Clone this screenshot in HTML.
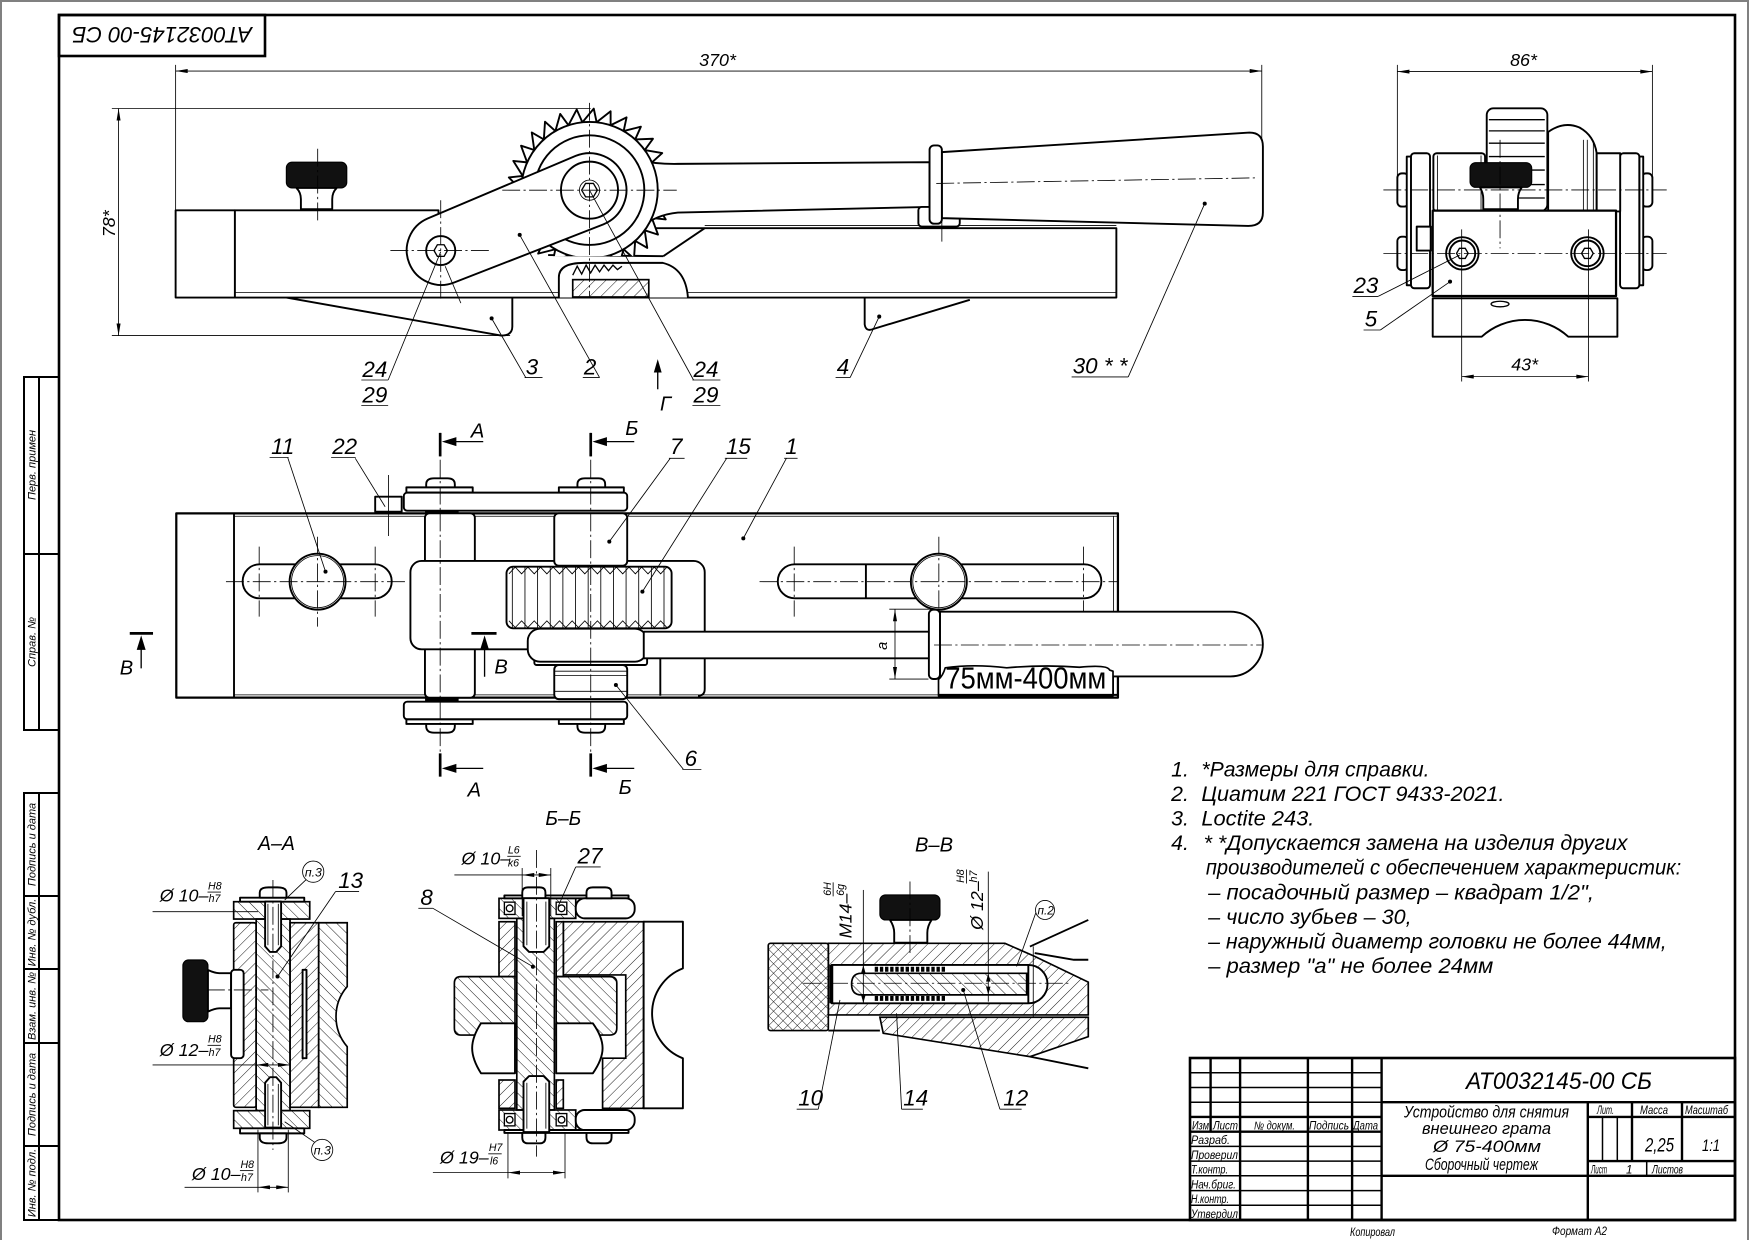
<!DOCTYPE html>
<html><head><meta charset="utf-8">
<style>
html,body{margin:0;padding:0;background:#fff;width:1754px;height:1240px;overflow:hidden}
svg{display:block}
text{font-family:"Liberation Sans","DejaVu Sans",sans-serif;font-style:italic;fill:#000}
.k{stroke:#000;stroke-width:1.7;fill:none;stroke-linejoin:round}
.w{stroke:#000;stroke-width:1.7;fill:#fff;stroke-linejoin:round}
.t{stroke:#000;stroke-width:.75;fill:none}
.c{stroke:#000;stroke-width:.75;fill:none;stroke-dasharray:16 3 2 3}
.ha{fill:url(#ha);stroke:#000;stroke-width:1.5}
.hb{fill:url(#hb);stroke:#000;stroke-width:1.5}
.hx{fill:url(#hx);stroke:#000;stroke-width:1.5}
.d{stroke:#000;stroke-width:.75;fill:none;marker-start:url(#ar);marker-end:url(#ar)}
.b{fill:#111;stroke:#000;stroke-width:1}
.f{stroke:#000;stroke-width:2.4;fill:none}
.g{stroke:#000;stroke-width:1.2;fill:none}
.up{font-style:normal}
</style></head><body>
<svg width="1754" height="1240" viewBox="0 0 1754 1240" xmlns="http://www.w3.org/2000/svg">
<defs>
<marker id="ar" viewBox="0 0 12 4" refX="12" refY="2" markerWidth="11" markerHeight="3.6" markerUnits="userSpaceOnUse" orient="auto-start-reverse"><path d="M0,0L12,2L0,4z" fill="#000"/></marker>
<pattern id="ha" width="7" height="7" patternUnits="userSpaceOnUse" patternTransform="rotate(45)"><line x1="0" y1="0" x2="0" y2="7" stroke="#000" stroke-width=".8"/></pattern>
<pattern id="hb" width="7" height="7" patternUnits="userSpaceOnUse" patternTransform="rotate(-45)"><line x1="0" y1="0" x2="0" y2="7" stroke="#000" stroke-width=".8"/></pattern>
<pattern id="hx" width="6" height="6" patternUnits="userSpaceOnUse" patternTransform="rotate(45)"><line x1="0" y1="0" x2="0" y2="6" stroke="#000" stroke-width=".8"/><line x1="0" y1="0" x2="6" y2="0" stroke="#000" stroke-width=".8"/></pattern>
<clipPath id="wc"><rect x="440" y="80" width="200" height="149"/></clipPath>
</defs>

<!-- ===== FRAME (original coords) ===== -->
<rect x="1" y="1" width="1747" height="1250" fill="none" stroke="#808080" stroke-width="2"/>
<rect x="59" y="15" width="1676" height="1205" fill="none" stroke="#000" stroke-width="2.6"/>
<rect x="59" y="15" width="206" height="41" fill="none" stroke="#000" stroke-width="2.6"/>
<text transform="rotate(180 162 35.5)" x="72" y="44" font-size="22" textLength="180" lengthAdjust="spacingAndGlyphs">АТ0032145-00 СБ</text>

<!-- left margin stamps -->
<g stroke="#000" stroke-width="2" fill="none">
<rect x="24" y="377" width="35" height="353"/>
<line x1="39" y1="377" x2="39" y2="730"/>
<line x1="24" y1="554" x2="59" y2="554"/>
<rect x="24" y="793" width="35" height="427"/>
<line x1="39" y1="793" x2="39" y2="1220"/>
<line x1="24" y1="896" x2="59" y2="896"/>
<line x1="24" y1="969" x2="59" y2="969"/>
<line x1="24" y1="1043" x2="59" y2="1043"/>
<line x1="24" y1="1146" x2="59" y2="1146"/>
</g>
<g font-size="11" text-anchor="middle">
<text transform="translate(35.5,465) rotate(-90)">Перв. примен</text>
<text transform="translate(35.5,642) rotate(-90)">Справ. №</text>
<text transform="translate(35.5,844.5) rotate(-90)">Подпись и дата</text>
<text transform="translate(35.5,932.5) rotate(-90)">Инв. № дубл.</text>
<text transform="translate(35.5,1006) rotate(-90)">Взам. инв. №</text>
<text transform="translate(35.5,1094.5) rotate(-90)">Подпись и дата</text>
<text transform="translate(35.5,1183) rotate(-90)">Инв. № подл.</text>
</g>

<!-- title block -->
<g stroke="#000" fill="none">
<rect x="1190" y="1058" width="545" height="162" stroke-width="2.6"/>
<g stroke-width="1.5">
<line x1="1190" y1="1072.7" x2="1381.6" y2="1072.7"/>
<line x1="1190" y1="1087.5" x2="1381.6" y2="1087.5"/>
<line x1="1190" y1="1102.2" x2="1381.6" y2="1102.2"/>
<line x1="1190" y1="1146.4" x2="1381.6" y2="1146.4"/>
<line x1="1190" y1="1161.1" x2="1381.6" y2="1161.1"/>
<line x1="1190" y1="1175.8" x2="1381.6" y2="1175.8"/>
<line x1="1190" y1="1190.6" x2="1381.6" y2="1190.6"/>
<line x1="1190" y1="1205.3" x2="1381.6" y2="1205.3"/>
<line x1="1602.5" y1="1116.9" x2="1602.5" y2="1161.1"/>
<line x1="1617.3" y1="1116.9" x2="1617.3" y2="1161.1"/>
<line x1="1646.7" y1="1161.1" x2="1646.7" y2="1175.8"/>
</g>
<g stroke-width="2.4">
<line x1="1190" y1="1116.9" x2="1381.6" y2="1116.9"/>
<line x1="1190" y1="1131.7" x2="1381.6" y2="1131.7"/>
<line x1="1210.6" y1="1058" x2="1210.6" y2="1131.7"/>
<line x1="1240.1" y1="1058" x2="1240.1" y2="1220"/>
<line x1="1307.9" y1="1058" x2="1307.9" y2="1220"/>
<line x1="1352.1" y1="1058" x2="1352.1" y2="1220"/>
<line x1="1381.6" y1="1058" x2="1381.6" y2="1220"/>
<line x1="1381.6" y1="1102.2" x2="1735" y2="1102.2"/>
<line x1="1587.8" y1="1102.2" x2="1587.8" y2="1220"/>
<line x1="1587.8" y1="1116.9" x2="1735" y2="1116.9"/>
<line x1="1587.8" y1="1161.1" x2="1735" y2="1161.1"/>
<line x1="1381.6" y1="1175.8" x2="1735" y2="1175.8"/>
<line x1="1632" y1="1102.2" x2="1632" y2="1161.1"/>
<line x1="1682" y1="1102.2" x2="1682" y2="1161.1"/>
</g>
</g>
<g font-size="11.5">
<text x="1192" y="1129.5" textLength="17" lengthAdjust="spacingAndGlyphs">Изм</text>
<text x="1213" y="1129.5" textLength="25" lengthAdjust="spacingAndGlyphs">Лист</text>
<text x="1254" y="1129.5" textLength="41" lengthAdjust="spacingAndGlyphs">№ докум.</text>
<text x="1309" y="1129.5" textLength="40" lengthAdjust="spacingAndGlyphs">Подпись</text>
<text x="1353" y="1129.5" textLength="25" lengthAdjust="spacingAndGlyphs">Дата</text>
<text x="1191" y="1144" textLength="39" lengthAdjust="spacingAndGlyphs">Разраб.</text>
<text x="1191" y="1159" textLength="47" lengthAdjust="spacingAndGlyphs">Проверил</text>
<text x="1191" y="1173.5" textLength="37" lengthAdjust="spacingAndGlyphs">Т.контр.</text>
<text x="1191" y="1188.5" textLength="45" lengthAdjust="spacingAndGlyphs">Нач.бриг.</text>
<text x="1191" y="1203" textLength="38" lengthAdjust="spacingAndGlyphs">Н.контр.</text>
<text x="1191" y="1218" textLength="47" lengthAdjust="spacingAndGlyphs">Утвердил</text>
<text x="1597" y="1114" textLength="17" lengthAdjust="spacingAndGlyphs">Лит.</text>
<text x="1640" y="1114" textLength="28" lengthAdjust="spacingAndGlyphs">Масса</text>
<text x="1685" y="1114" textLength="43" lengthAdjust="spacingAndGlyphs">Масштаб</text>
<text x="1591" y="1173.5" textLength="16" lengthAdjust="spacingAndGlyphs">Лист</text>
<text x="1626" y="1173.5">1</text>
<text x="1652" y="1173.5" textLength="31" lengthAdjust="spacingAndGlyphs">Листов</text>
<text x="1350" y="1236" textLength="45" lengthAdjust="spacingAndGlyphs">Копировал</text>
<text x="1552" y="1235" textLength="55" lengthAdjust="spacingAndGlyphs">Формат А2</text>
</g>
<text x="1645" y="1151.5" font-size="19" textLength="29" lengthAdjust="spacingAndGlyphs">2,25</text>
<text x="1702" y="1151" font-size="17" textLength="18" lengthAdjust="spacingAndGlyphs">1:1</text>
<text x="1466" y="1089" font-size="24" textLength="186" lengthAdjust="spacingAndGlyphs">АТ0032145-00 СБ</text>
<g font-size="17">
<text x="1404" y="1117.5" textLength="165" lengthAdjust="spacingAndGlyphs">Устройство для снятия</text>
<text x="1422" y="1134" textLength="129" lengthAdjust="spacingAndGlyphs">внешнего грата</text>
<text x="1433" y="1152" textLength="108" lengthAdjust="spacingAndGlyphs">Ø 75-400мм</text>
<text x="1425" y="1170" textLength="113" lengthAdjust="spacingAndGlyphs">Сборочный чертеж</text>
</g>

<!-- ===== DRAWINGS (display coords, scaled) ===== -->
<g transform="scale(1.1186)">

<!-- ========== TOP VIEW ========== -->
<line class="t" x1="157" y1="58" x2="157" y2="188"/>
<line class="t" x1="1128" y1="58" x2="1128" y2="124"/>
<line class="d" x1="157" y1="63.5" x2="1128" y2="63.5"/>
<text x="625" y="59" font-size="16">370*</text>
<line class="t" x1="100" y1="97" x2="528" y2="97"/>
<line class="t" x1="100" y1="300" x2="456" y2="300"/>
<line class="d" x1="106" y1="97" x2="106" y2="300"/>
<text transform="translate(103,212) rotate(-90)" font-size="16">78*</text>

<path class="w" d="M256,266 L448,300 Q458,300 458,292 L458,266"/>
<path class="w" d="M773,266 L773,290 Q774,297 781,294 L867,268"/>
<rect class="w" x="157" y="188" width="53" height="78"/>
<path class="w" d="M210,188 H392 V204 H998 V266 H210 Z"/>
<line class="t" x1="210" y1="261.5" x2="998" y2="261.5"/>
<line class="t" x1="630" y1="201.5" x2="998" y2="201.5"/>
<line class="k" x1="593" y1="229" x2="630" y2="204"/>
<line class="k" x1="490" y1="228" x2="593" y2="229"/>
<path class="w" d="M499.6,266 V248 Q499.6,235 522,235 H592.5 Q613,240 615,266"/>
<rect class="ha" x="512" y="250" width="68" height="15.5"/>
<polyline class="g" points="512,246 516,238 520,245 524,237 528,244 532,237 536,243 540,237 544,242 548,237 552,241 556,238"/>

<rect class="b" x="256" y="145" width="54" height="23" rx="5"/>
<path class="w" d="M265,168 H301 Q297,172 297,178 V187 H269 V178 Q269,172 265,168 Z"/>
<line class="c" x1="284" y1="133" x2="284" y2="200"/>

<g clip-path="url(#wc)">
<path id="tt" class="w" d="M588,170 L599.1,181.4 L586.7,182.7 Z"/>
<use href="#tt" transform="rotate(12 527 170)"/><use href="#tt" transform="rotate(24 527 170)"/><use href="#tt" transform="rotate(36 527 170)"/>
<use href="#tt" transform="rotate(48 527 170)"/><use href="#tt" transform="rotate(60 527 170)"/><use href="#tt" transform="rotate(72 527 170)"/>
<use href="#tt" transform="rotate(84 527 170)"/><use href="#tt" transform="rotate(96 527 170)"/><use href="#tt" transform="rotate(108 527 170)"/>
<use href="#tt" transform="rotate(120 527 170)"/><use href="#tt" transform="rotate(132 527 170)"/><use href="#tt" transform="rotate(144 527 170)"/>
<use href="#tt" transform="rotate(156 527 170)"/><use href="#tt" transform="rotate(168 527 170)"/><use href="#tt" transform="rotate(180 527 170)"/>
<use href="#tt" transform="rotate(192 527 170)"/><use href="#tt" transform="rotate(204 527 170)"/><use href="#tt" transform="rotate(216 527 170)"/>
<use href="#tt" transform="rotate(228 527 170)"/><use href="#tt" transform="rotate(240 527 170)"/><use href="#tt" transform="rotate(252 527 170)"/>
<use href="#tt" transform="rotate(264 527 170)"/><use href="#tt" transform="rotate(276 527 170)"/><use href="#tt" transform="rotate(288 527 170)"/>
<use href="#tt" transform="rotate(300 527 170)"/><use href="#tt" transform="rotate(312 527 170)"/><use href="#tt" transform="rotate(324 527 170)"/>
<use href="#tt" transform="rotate(336 527 170)"/><use href="#tt" transform="rotate(348 527 170)"/>
</g>
<path class="w" d="M556,140 Q582,147 606,146.5 L831,145 L831,185 L606,190 Q586,192 572,204 Z"/>
<g clip-path="url(#wc)"><circle class="w" cx="527" cy="170" r="61"/><circle class="k" cx="527" cy="170" r="49"/></g>
<path class="w" d="M382.3,195.3 L514.6,139.4 A33,33 0 0 1 539.4,200.6 L405.7,252.7 A31,31 0 0 1 382.3,195.3 Z"/>
<circle class="k" cx="527" cy="170" r="25.5"/>
<circle class="t" cx="527" cy="170" r="9"/>
<polygon class="g" points="534,170 530.5,176 523.5,176 520,170 523.5,164 530.5,164"/>
<circle class="k" cx="394" cy="224" r="13"/>
<polygon class="g" points="400,224 397,229.2 391,229.2 388,224 391,218.8 397,218.8"/>
<line class="c" x1="449" y1="170" x2="605" y2="170"/>
<line class="c" x1="527" y1="92" x2="527" y2="265"/>
<line class="c" x1="349" y1="224" x2="440" y2="224"/>
<line class="c" x1="394" y1="179" x2="394" y2="270"/>

<rect class="w" x="821" y="185" width="37" height="17.5" rx="3"/>
<path class="w" d="M842,136 L1117,118.5 Q1129,118.5 1129,131 L1129,190 Q1129,202 1116,202 L842,195 Z"/>
<rect class="w" x="831" y="130" width="11" height="70" rx="4"/>
<line class="c" x1="837" y1="164" x2="1123" y2="159"/>
<line class="t" x1="842" y1="159" x2="842" y2="216"/>

<g font-size="20">
<text x="324" y="337">24</text><text x="324" y="360">29</text>
<line class="t" x1="323" y1="339.7" x2="347" y2="339.7"/><line class="t" x1="323" y1="362.5" x2="347" y2="362.5"/>
<line class="t" x1="347" y1="339.7" x2="394" y2="225"/>
<line class="t" x1="398" y1="238" x2="412" y2="271"/>
<text x="470" y="335">3</text><line class="t" x1="469" y1="337.5" x2="485" y2="337.5"/>
<line class="t" x1="470" y1="337.5" x2="439.5" y2="284.6"/><circle cx="439.5" cy="284.6" r="1.8"/>
<text x="522" y="335">2</text><line class="t" x1="521" y1="337.5" x2="536" y2="337.5"/>
<line class="t" x1="536" y1="337.5" x2="464.6" y2="210"/><circle cx="464.6" cy="210" r="1.8"/>
<text x="620" y="337">24</text><text x="620" y="360">29</text>
<line class="t" x1="619" y1="339.7" x2="644" y2="339.7"/><line class="t" x1="619" y1="362.5" x2="644" y2="362.5"/>
<line class="t" x1="620" y1="339.7" x2="527" y2="170"/>
<text x="748" y="335">4</text><line class="t" x1="747" y1="337.5" x2="760" y2="337.5"/>
<line class="t" x1="760" y1="337.5" x2="786" y2="283"/><circle cx="786" cy="283" r="1.8"/>
<text x="959" y="334">30 * *</text><line class="t" x1="958" y1="337" x2="1008.6" y2="337"/>
<line class="t" x1="1008.6" y1="337" x2="1077" y2="182"/><circle cx="1077" cy="182" r="1.8"/>
</g>
<path d="M588,321 L591.5,333 L584.5,333 Z" fill="#000"/>
<line class="g" x1="588" y1="332" x2="588" y2="348"/>
<text x="590" y="367" font-size="18">Г</text>

<!-- ========== RIGHT VIEW ========== -->
<line class="t" x1="1249.2" y1="58" x2="1249.2" y2="167"/>
<line class="t" x1="1477.2" y1="58" x2="1477.2" y2="160"/>
<line class="d" x1="1249.2" y1="64" x2="1477.2" y2="64"/>
<text x="1350" y="59" font-size="16">86*</text>
<rect class="w" x="1249.2" y="155" width="10" height="29.7" rx="4"/>
<rect class="w" x="1249.2" y="211.6" width="10" height="29.8" rx="4"/>
<rect class="w" x="1257.6" y="140" width="4" height="115"/>
<rect class="w" x="1261.4" y="137" width="17" height="120.7" rx="3"/>
<rect class="w" x="1467.5" y="155" width="9.7" height="29.7" rx="4"/>
<rect class="w" x="1467.5" y="211.6" width="9.7" height="29.8" rx="4"/>
<rect class="w" x="1465.5" y="140" width="3.5" height="115"/>
<rect class="w" x="1448.3" y="137" width="17.2" height="120.7" rx="3"/>
<rect class="w" x="1281.4" y="137" width="46.2" height="52" rx="3"/>
<line class="t" x1="1285" y1="139" x2="1285" y2="188"/><line class="t" x1="1324" y1="139" x2="1324" y2="188"/>
<path class="w" d="M1384,189 V118 Q1398,108 1412,114 Q1425,121 1427.4,137 V189 Z"/>
<rect class="w" x="1427.4" y="137" width="21" height="52"/>
<line class="t" x1="1415.5" y1="125" x2="1415.5" y2="188"/><line class="t" x1="1419" y1="125" x2="1419" y2="188"/><line class="t" x1="1424.4" y1="128" x2="1424.4" y2="188"/>
<rect class="w" x="1329.1" y="96.8" width="54.2" height="92" rx="6"/>
<g class="g"><line x1="1331" y1="107" x2="1381" y2="107"/><line x1="1331" y1="117" x2="1381" y2="117"/><line x1="1331" y1="128" x2="1381" y2="128"/><line x1="1331" y1="140" x2="1381" y2="140"/><line x1="1331" y1="152" x2="1381" y2="152"/><line x1="1331" y1="165" x2="1381" y2="165"/><line x1="1331" y1="177" x2="1381" y2="177"/></g>
<rect class="b" x="1314.2" y="145.4" width="55.1" height="22.1" rx="5"/>
<path class="w" d="M1323,167.5 H1360.4 Q1357,172 1357,178 V187 H1326 V178 Q1326,172 1323,167.5 Z"/>
<rect class="w" x="1280.8" y="188.3" width="163.9" height="76.3" style="stroke-width:2"/>
<path class="w" d="M1280.8,266.7 H1445.9 V301 H1402 A57.4,57.4 0 0 0 1324.6,301 H1280.8 Z"/>
<ellipse class="g" cx="1341" cy="271.8" rx="8" ry="2.5"/>
<rect class="w" x="1266.5" y="202.6" width="12.5" height="21.4"/>
<circle class="k" cx="1307.3" cy="226.5" r="14.5"/><circle class="k" cx="1307.3" cy="226.5" r="11.5"/>
<polygon class="g" points="1312.5,226.5 1309.9,231 1304.7,231 1302.1,226.5 1304.7,222 1309.9,222"/>
<circle class="k" cx="1419.1" cy="226.5" r="14.5"/><circle class="k" cx="1419.1" cy="226.5" r="11.5"/>
<polygon class="g" points="1424.3,226.5 1421.7,231 1416.5,231 1413.9,226.5 1416.5,222 1421.7,222"/>
<line class="c" x1="1236.7" y1="226.5" x2="1490" y2="226.5"/>
<line class="c" x1="1236.7" y1="169.8" x2="1490" y2="169.8"/>
<line class="c" x1="1341" y1="125" x2="1341" y2="222"/>
<line class="t" x1="1306.7" y1="205" x2="1306.7" y2="341"/>
<line class="t" x1="1420" y1="205" x2="1420" y2="341"/>
<line class="d" x1="1306.7" y1="336.7" x2="1420" y2="336.7"/>
<text x="1351" y="331" font-size="16">43*</text>
<g font-size="20">
<text x="1210" y="262">23</text><line class="t" x1="1209" y1="265" x2="1232" y2="265"/>
<line class="t" x1="1232" y1="265" x2="1305" y2="228"/>
<text x="1220" y="292">5</text><line class="t" x1="1219" y1="295" x2="1234" y2="295"/>
<line class="t" x1="1234" y1="295" x2="1296.3" y2="251.8"/><circle cx="1296.3" cy="251.8" r="1.8"/>
</g>

<!-- ========== PLAN VIEW ========== -->
<rect class="w" x="157.6" y="458.9" width="841.8" height="164.8" style="stroke-width:2"/>
<line class="k" x1="209.2" y1="458.9" x2="209.2" y2="623.7"/>
<line class="t" x1="209.2" y1="461.5" x2="999" y2="461.5"/>
<line class="t" x1="209.2" y1="621.2" x2="999" y2="621.2"/>
<line class="t" x1="995.5" y1="461.5" x2="995.5" y2="621.2"/>
<rect class="k" x="216.9" y="504.5" width="133.3" height="30.4" rx="15.2"/>
<circle class="w" cx="283.9" cy="520" r="25"/><circle class="t" cx="283.9" cy="520" r="23.3"/>
<rect class="k" x="695.3" y="504.5" width="289.3" height="30.4" rx="15.2"/>
<line class="k" x1="774.1" y1="505" x2="774.1" y2="534.5"/>
<circle class="w" cx="839.3" cy="520" r="25"/><circle class="t" cx="839.3" cy="520" r="23.3"/>
<line class="c" x1="202" y1="520" x2="365" y2="520"/>
<line class="c" x1="679" y1="520" x2="999" y2="520"/>
<line class="c" x1="231.7" y1="488.7" x2="231.7" y2="551.3"/>
<line class="c" x1="283.9" y1="479.8" x2="283.9" y2="560.2"/>
<line class="c" x1="335.4" y1="488.7" x2="335.4" y2="551.3"/>
<line class="c" x1="710" y1="488.7" x2="710" y2="551.3"/>
<line class="c" x1="839.3" y1="479.8" x2="839.3" y2="560.2"/>
<line class="c" x1="968.6" y1="488.7" x2="968.6" y2="581"/>

<path class="w" d="M381,436 V433 Q381,427.6 388,427.6 H400 Q406.6,427.6 406.6,433 V436 Z"/>
<path class="w" d="M516.2,436 V433 Q516.2,427.6 523,427.6 H535 Q541,427.6 541,433 V436 Z"/>
<rect class="w" x="363.3" y="435.7" width="59.3" height="4.7"/>
<rect class="w" x="499.6" y="435.7" width="58.1" height="4.7"/>
<rect class="w" x="361" y="440.4" width="199.7" height="16.1" rx="3"/>
<path class="w" d="M381,647 V649 Q381,655 388,655 H400 Q406.6,655 406.6,649 V647 Z"/>
<path class="w" d="M516.2,647 V649 Q516.2,655 523,655 H535 Q541,655 541,649 V647 Z"/>
<rect class="w" x="363.3" y="643" width="59.3" height="4.2"/>
<rect class="w" x="499.6" y="643" width="58.1" height="4.2"/>
<rect class="w" x="361" y="627.3" width="199.7" height="15.7" rx="3"/>
<rect x="380" y="456.5" width="30" height="3" fill="#000"/>
<rect x="380" y="623.7" width="30" height="3.2" fill="#000"/>
<rect class="w" x="335.4" y="444" width="23.7" height="13.5"/>
<line class="t" x1="347.3" y1="424.6" x2="347.3" y2="479.2"/>

<rect class="w" x="379.9" y="458.9" width="44.6" height="46" rx="4"/>
<rect class="w" x="379.9" y="577" width="44.6" height="46.7" rx="4"/>
<rect class="w" x="366.9" y="501.5" width="263.1" height="79" rx="10"/>
<path class="k" d="M590.3,588.5 V622 M630,570 V616 Q630,622 624,622"/>
<rect class="w" x="495.5" y="458.9" width="65.2" height="46.8" rx="4"/>
<rect class="w" x="452.8" y="506.6" width="147.6" height="55.1" rx="6"/>
<g class="t">
<line x1="458" y1="507" x2="458" y2="561"/><line x1="469.3" y1="507" x2="469.3" y2="561"/><line x1="480.6" y1="507" x2="480.6" y2="561"/><line x1="491.9" y1="507" x2="491.9" y2="561"/><line x1="503.2" y1="507" x2="503.2" y2="561"/><line x1="514.5" y1="507" x2="514.5" y2="561"/><line x1="525.8" y1="507" x2="525.8" y2="561"/><line x1="537.1" y1="507" x2="537.1" y2="561"/><line x1="548.4" y1="507" x2="548.4" y2="561"/><line x1="559.7" y1="507" x2="559.7" y2="561"/><line x1="571" y1="507" x2="571" y2="561"/><line x1="582.3" y1="507" x2="582.3" y2="561"/><line x1="593.6" y1="507" x2="593.6" y2="561"/>
<polyline points="455,513 460.6,507 466.3,513 471.9,507 477.6,513 483.2,507 488.9,513 494.5,507 500.2,513 505.8,507 511.5,513 517.1,507 522.8,513 528.4,507 534.1,513 539.7,507 545.4,513 551,507 556.7,513 562.3,507 568,513 573.6,507 579.3,513 584.9,507 590.6,513 596.2,507"/>
<polyline points="455,555 460.6,561 466.3,555 471.9,561 477.6,555 483.2,561 488.9,555 494.5,561 500.2,555 505.8,561 511.5,555 517.1,561 522.8,555 528.4,561 534.1,555 539.7,561 545.4,555 551,561 556.7,555 562.3,561 568,555 573.6,561 579.3,555 584.9,561 590.6,555 596.2,561"/>
</g>
<rect class="w" x="477.7" y="585" width="100.8" height="9.5" rx="2"/>
<rect class="w" x="471.8" y="562" width="106.7" height="29.5" rx="11"/>
<rect class="w" x="575.5" y="564.7" width="255" height="23.8"/>
<rect class="w" x="495.5" y="594.5" width="65.2" height="30.5" rx="4"/>
<line class="t" x1="495.5" y1="600" x2="560.7" y2="600"/><line class="t" x1="495.5" y1="604" x2="560.7" y2="604"/><line class="t" x1="495.5" y1="618" x2="560.7" y2="618"/>

<path class="w" d="M840.3,546.8 H1100 A28.95,28.95 0 0 1 1100,604.7 H840.3 Z"/>
<rect class="w" x="830.4" y="545" width="9.9" height="62" rx="4"/>
<line class="c" x1="835" y1="576.6" x2="1128" y2="576.6"/>
<path class="w" d="M839,607.5 Q843,604 845,597 Q870,593.5 900,597 Q935,594 965,596.5 Q990,594 992,599 L995,600 V622 H839 Z" style="stroke-width:1.5"/>
<line class="k" x1="839" y1="621.2" x2="999" y2="621.2"/>
<text class="up" x="845" y="615.5" font-size="27" textLength="144" lengthAdjust="spacingAndGlyphs">75мм-400мм</text>
<line class="t" x1="795" y1="544.6" x2="838.8" y2="544.6"/>
<line class="t" x1="795" y1="607.1" x2="830" y2="607.1"/>
<line class="d" x1="800.1" y1="544.6" x2="800.1" y2="607.1"/>
<text transform="translate(793,581) rotate(-90)" font-size="13">a</text>

<!-- section marks -->
<line class="c" x1="393.5" y1="387" x2="393.5" y2="694"/>
<line class="c" x1="528.1" y1="387" x2="528.1" y2="694"/>
<g class="f">
<line x1="393.5" y1="387" x2="393.5" y2="408"/><line x1="393.5" y1="673.5" x2="393.5" y2="694.3"/>
<line x1="528.1" y1="387" x2="528.1" y2="408"/><line x1="528.1" y1="673.5" x2="528.1" y2="694.3"/>
<line x1="116" y1="566.2" x2="136.8" y2="566.2"/><line x1="421.4" y1="566.2" x2="443.9" y2="566.2"/>
</g>
<g class="g">
<line x1="405" y1="394.8" x2="432" y2="394.8"/><line x1="405" y1="686.9" x2="432" y2="686.9"/>
<line x1="540" y1="394.8" x2="567" y2="394.8"/><line x1="540" y1="686.9" x2="567" y2="686.9"/>
<line x1="126.2" y1="580" x2="126.2" y2="597.5"/><line x1="433.2" y1="580" x2="433.2" y2="605"/>
</g>
<g fill="#000">
<polygon points="395,394.8 408,390.8 408,398.8"/><polygon points="395,686.9 408,682.9 408,690.9"/>
<polygon points="529.6,394.8 542.6,390.8 542.6,398.8"/><polygon points="529.6,686.9 542.6,682.9 542.6,690.9"/>
<polygon points="126.2,568 122.2,581 130.2,581"/><polygon points="433.2,568 429.2,581 437.2,581"/>
</g>
<g font-size="18">
<text x="421" y="391">А</text><text x="418" y="712">А</text>
<text x="559" y="389">Б</text><text x="553" y="710">Б</text>
<text x="107" y="603">В</text><text x="442" y="602">В</text>
</g>
<g font-size="20">
<text x="242.4" y="406">11</text><line class="t" x1="241" y1="409" x2="258" y2="409"/>
<line class="t" x1="257.2" y1="409" x2="291" y2="511"/><circle cx="291" cy="511" r="1.8"/>
<text x="297" y="406">22</text><line class="t" x1="296" y1="409" x2="318" y2="409"/>
<line class="t" x1="317.6" y1="409.7" x2="344.3" y2="453"/>
<text x="599" y="406">7</text><line class="t" x1="598" y1="409.7" x2="612" y2="409.7"/>
<line class="t" x1="599.2" y1="409.7" x2="544.7" y2="484.2"/><circle cx="544.7" cy="484.2" r="1.8"/>
<text x="649" y="406">15</text><line class="t" x1="648" y1="409.7" x2="668" y2="409.7"/>
<line class="t" x1="649.6" y1="409.7" x2="574.3" y2="528.9"/><circle cx="574.3" cy="528.9" r="1.8"/>
<text x="702" y="406">1</text><line class="t" x1="701" y1="409.7" x2="713" y2="409.7"/>
<line class="t" x1="703" y1="409.7" x2="664.5" y2="481.3"/><circle cx="664.5" cy="481.3" r="1.8"/>
<text x="612" y="685">6</text><line class="t" x1="610" y1="687.8" x2="627" y2="687.8"/>
<line class="t" x1="611" y1="687.8" x2="550.6" y2="612.4"/><circle cx="550.6" cy="612.4" r="1.8"/>
</g>

<!-- ========== SECTION A-A ========== -->
<text x="230.6" y="760" font-size="18" textLength="33" lengthAdjust="spacingAndGlyphs">А–А</text>
<rect class="hb" x="208.9" y="806.1" width="68" height="15.5"/>
<rect class="w" x="214.6" y="802.5" width="57.4" height="3.6"/>
<rect class="hb" x="208.9" y="992.9" width="68" height="15.8"/>
<rect class="w" x="214.6" y="1008.7" width="57.4" height="4.5"/>
<rect class="ha" x="208.9" y="824.9" width="20.1" height="165" rx="2"/>
<rect class="hb" x="229" y="821.6" width="30.3" height="171.3"/>
<rect class="ha" x="259.3" y="824.9" width="25.6" height="165"/>
<path class="hb" d="M284.9,824.9 H310.4 V882 A41,41 0 0 0 310.4,935.7 V989.9 H284.9 Z"/>
<rect class="w" x="270.5" y="867" width="3.5" height="79"/>
<path class="w" d="M232.2,802.5 V798 Q232.2,793.3 240,793.3 H248 Q256.1,793.3 256.1,798 V802.5 Z"/>
<path class="w" d="M237,806 H251.3 V846 L247,851 H241.3 L237,846 Z"/>
<line class="t" x1="239.5" y1="808" x2="239.5" y2="845"/><line class="t" x1="248.8" y1="808" x2="248.8" y2="845"/>
<path class="w" d="M237,1008 H251.3 V968 L247,963 H241.3 L237,968 Z"/>
<line class="t" x1="239.5" y1="969" x2="239.5" y2="1006"/><line class="t" x1="248.8" y1="969" x2="248.8" y2="1006"/>
<path class="w" d="M232.2,1013.2 V1017 Q232.2,1022.1 240,1022.1 H248 Q256.1,1022.1 256.1,1017 V1013.2 Z"/>
<rect class="b" x="163.5" y="858.2" width="22.4" height="55.2" rx="5"/>
<path class="w" d="M185.9,867.2 Q192,870 196,870 H206.6 V901.4 H196 Q192,901.4 185.9,904.4 Z"/>
<rect class="w" x="206.6" y="867" width="11.2" height="79" rx="3"/>
<line class="c" x1="244" y1="786.7" x2="244" y2="1028"/>
<line class="c" x1="185" y1="885" x2="240" y2="885"/>
<line class="t" x1="136.4" y1="815" x2="230.6" y2="815"/>
<text x="142.8" y="806" font-size="16">Ø 10–</text>
<text x="186" y="795" font-size="9.5">H8</text><line class="t" x1="185.5" y1="797.5" x2="197.5" y2="797.5"/><text x="186.5" y="806.5" font-size="9.5">h7</text>
<line class="t" x1="136.4" y1="952" x2="229" y2="952"/>
<line class="d" x1="229" y1="952" x2="259.3" y2="952"/>
<text x="142.8" y="944" font-size="16">Ø 12–</text>
<text x="186" y="932" font-size="9.5">H8</text><line class="t" x1="185.5" y1="934.5" x2="197.5" y2="934.5"/><text x="186.5" y="944" font-size="9.5">h7</text>
<line class="t" x1="230.6" y1="1010" x2="230.6" y2="1066"/><line class="t" x1="257.7" y1="1010" x2="257.7" y2="1066"/>
<line class="t" x1="165" y1="1061.4" x2="230.6" y2="1061.4"/>
<line class="d" x1="230.6" y1="1061.4" x2="257.7" y2="1061.4"/>
<text x="171.5" y="1055" font-size="16">Ø 10–</text>
<text x="215" y="1044" font-size="9.5">H8</text><line class="t" x1="214.5" y1="1046.5" x2="226.5" y2="1046.5"/><text x="215.5" y="1056" font-size="9.5">h7</text>
<circle class="t" cx="280" cy="779.3" r="9.5"/><text x="272.5" y="783.5" font-size="11">п.3</text>
<line class="t" x1="273.5" y1="786.5" x2="254.5" y2="804.6"/>
<circle class="t" cx="288" cy="1028" r="9.5"/><text x="280.5" y="1032" font-size="11">п.3</text>
<line class="t" x1="281" y1="1021" x2="254.5" y2="1002.8"/>
<text x="302.4" y="794" font-size="20">13</text><line class="t" x1="300" y1="797" x2="321" y2="797"/>
<line class="t" x1="300" y1="797" x2="248.1" y2="873"/><circle cx="248.1" cy="873" r="1.8"/>

<!-- ========== SECTION Б-Б ========== -->
<text x="487.6" y="737.5" font-size="18" textLength="32" lengthAdjust="spacingAndGlyphs">Б–Б</text>
<rect class="w" x="450.9" y="800.5" width="111" height="2.6"/>
<rect class="w" x="450.9" y="1010.2" width="111" height="2.6"/>
<rect class="hb" x="446.1" y="803.1" width="68.6" height="17.9"/>
<rect class="w" x="514.7" y="803.1" width="52.7" height="17.9" rx="8"/>
<rect class="hb" x="446.1" y="992.3" width="68.6" height="17.9"/>
<rect class="w" x="514.7" y="992.3" width="52.7" height="17.9" rx="8"/>
<g class="g" fill="#fff">
<rect x="450.9" y="806.5" width="9.5" height="11" fill="#fff"/><rect x="497.2" y="806.5" width="9.5" height="11" fill="#fff"/>
<rect x="450.9" y="995.5" width="9.5" height="11" fill="#fff"/><rect x="497.2" y="995.5" width="9.5" height="11" fill="#fff"/>
<circle cx="455.6" cy="812" r="3"/><circle cx="502" cy="812" r="3"/><circle cx="455.6" cy="1001" r="3"/><circle cx="502" cy="1001" r="3"/>
</g>
<rect class="ha" x="446.1" y="824" width="14.3" height="49.1"/>
<rect class="ha" x="446.1" y="965.5" width="14.3" height="25.3"/>
<rect class="ha" x="497.2" y="824" width="6.4" height="49.1"/>
<rect class="ha" x="497.2" y="965.5" width="6.4" height="25.3"/>
<rect class="hb" x="462" y="821" width="33.6" height="171.3"/>
<path class="ha" d="M503.6,824 H575.4 V990.8 H538.7 V946 H559.4 V871.6 H503.6 Z"/>
<path class="hb" d="M412,873.1 H460.4 V925.3 H412 Q406.2,925.3 406.2,919 V879 Q406.2,873.1 412,873.1 Z"/>
<path class="hb" d="M497.2,873.1 H545 Q551.4,873.1 551.4,879 V919 Q551.4,925.3 545,925.3 H497.2 Z"/>
<path class="w" d="M430,914.8 H460.4 V959.5 H430 Q422.1,947 422.1,937 Q422.1,927 430,914.8 Z"/>
<path class="w" d="M497.2,914.8 H530 Q538.7,927 538.7,937 Q538.7,947 530,959.5 H497.2 Z"/>
<path class="w" d="M575.4,824 H610.5 V865.7 A43.1,43.1 0 0 0 610.5,946.1 V990.8 H575.4 Z"/>
<path class="w" d="M466.9,803.1 V798 Q466.9,793.3 472,793.3 H482.5 Q487.6,793.3 487.6,798 V803.1 Z"/>
<path class="w" d="M524.3,803.1 V798 Q524.3,793.3 530,793.3 H541 Q546.7,793.3 546.7,798 V803.1 Z"/>
<path class="w" d="M466.9,1012.8 V1017 Q466.9,1022.1 472,1022.1 H482.5 Q487.6,1022.1 487.6,1017 V1012.8 Z"/>
<path class="w" d="M524.3,1012.8 V1017 Q524.3,1022.1 530,1022.1 H541 Q546.7,1022.1 546.7,1017 V1012.8 Z"/>
<path class="w" d="M468,803 H491 V846 L486,851 H473 L468,846 Z"/>
<path class="w" d="M468,1012 H491 V967 L486,962 H473 L468,967 Z"/>
<line class="t" x1="471" y1="806" x2="471" y2="845"/><line class="t" x1="488" y1="806" x2="488" y2="845"/>
<line class="t" x1="471" y1="968" x2="471" y2="1009"/><line class="t" x1="488" y1="968" x2="488" y2="1009"/>
<line class="c" x1="479.6" y1="759.9" x2="479.6" y2="1034"/>
<line class="t" x1="466.8" y1="776" x2="466.8" y2="819"/><line class="t" x1="492.4" y1="776" x2="492.4" y2="819"/>
<line class="t" x1="406.2" y1="782.2" x2="466.8" y2="782.2"/>
<line class="d" x1="466.8" y1="782.2" x2="492.4" y2="782.2"/>
<text x="412.6" y="773" font-size="16">Ø 10–</text>
<text x="454" y="763" font-size="9.5">L6</text><line class="t" x1="453.5" y1="765.5" x2="465.5" y2="765.5"/><text x="454" y="774.5" font-size="9.5">k6</text>
<text x="516.3" y="772" font-size="20">27</text><line class="t" x1="514.7" y1="775" x2="537" y2="775"/>
<line class="t" x1="514.7" y1="775" x2="498.8" y2="810.6"/>
<text x="375.8" y="809" font-size="20">8</text><line class="t" x1="374" y1="812" x2="387" y2="812"/>
<line class="t" x1="387" y1="812" x2="476.4" y2="864.2"/><circle cx="476.4" cy="864.2" r="1.8"/>
<line class="t" x1="454.1" y1="1012" x2="454.1" y2="1053.4"/><line class="t" x1="505.1" y1="1012" x2="505.1" y2="1053.4"/>
<line class="t" x1="387" y1="1048.3" x2="454.1" y2="1048.3"/>
<line class="d" x1="454.1" y1="1048.3" x2="505.1" y2="1048.3"/>
<text x="393.4" y="1040" font-size="16">Ø 19–</text>
<text x="437" y="1029" font-size="9.5">H7</text><line class="t" x1="436.5" y1="1031.5" x2="448.5" y2="1031.5"/><text x="438" y="1041" font-size="9.5">l6</text>

<!-- ========== SECTION B-B ========== -->
<text x="818" y="761" font-size="18" textLength="34" lengthAdjust="spacingAndGlyphs">В–В</text>
<rect class="hx" x="686.8" y="843.3" width="53.7" height="78" rx="2"/>
<path class="ha" d="M740.5,843.3 H898.4 L925,855 L972.9,878 V907.3 H740.5 Z"/>
<path class="ha" d="M786.6,909.4 H972.9 V926.7 L920.7,944.6 L789.6,923.7 Z"/>
<line class="k" x1="740.5" y1="921.3" x2="786.6" y2="921.3"/>
<line class="k" x1="920.7" y1="846.2" x2="972.9" y2="822.4"/>
<line class="k" x1="920.7" y1="944.6" x2="972.9" y2="955"/>
<path class="k" d="M925,852 L960,858 H972.9"/>
<path class="w" d="M743.4,862.6 H919.3 A17.15,17.15 0 0 1 919.3,896.9 H743.4 Z"/>
<line class="k" x1="919.3" y1="862.6" x2="919.3" y2="896.9"/>
<rect x="741.4" y="862.6" width="3.5" height="34.3" fill="#000"/>
<path class="hb" d="M770,870.1 H917.8 V889.4 H770 Q761.3,889.4 761.3,879.75 Q761.3,870.1 770,870.1 Z"/>
<line x1="782" y1="866.5" x2="846" y2="866.5" stroke="#000" stroke-width="4.5" stroke-dasharray="3 1.6"/>
<line x1="782" y1="892.5" x2="846" y2="892.5" stroke="#000" stroke-width="4.5" stroke-dasharray="3 1.6"/>
<rect class="b" x="786.6" y="800" width="53.7" height="22.4" rx="5"/>
<path class="w" d="M795.6,822.4 H832.8 Q829,828 829,834 V842.7 H799.4 V834 Q799.4,828 795.6,822.4 Z"/>
<line class="c" x1="813.5" y1="788" x2="813.5" y2="855"/>
<line class="c" x1="718.1" y1="879" x2="956.5" y2="879"/>
<line class="t" x1="923.7" y1="846" x2="923.7" y2="910"/>
<line class="t" x1="771.8" y1="795.6" x2="771.8" y2="897"/>
<line class="t" x1="883.5" y1="779.2" x2="883.5" y2="895.4"/>
<path d="M771.8,862.8 L769.8,870 L773.8,870 Z M771.8,896.7 L769.8,889.5 L773.8,889.5 Z M883.5,870.3 L881.5,877.5 L885.5,877.5 Z M883.5,889.2 L881.5,882 L885.5,882 Z" fill="#000"/>
<g transform="translate(761.3,838.8) rotate(-90)">
<text x="0" y="0" font-size="16">M14–</text>
<text x="38" y="-18.5" font-size="9.5">6H</text><line class="t" x1="37.5" y1="-16.5" x2="50" y2="-16.5"/><text x="38" y="-7" font-size="9.5">6g</text>
</g>
<g transform="translate(879,831.3) rotate(-90)">
<text x="0" y="0" font-size="16">Ø 12–</text>
<text x="42" y="-17" font-size="9.5">H8</text><line class="t" x1="41.5" y1="-15" x2="54" y2="-15"/><text x="42.5" y="-5.5" font-size="9.5">h7</text>
</g>
<circle class="t" cx="934.2" cy="813.5" r="8.5"/><text x="927.5" y="817.5" font-size="10.5">п.2</text>
<line class="t" x1="926" y1="816" x2="908.8" y2="864"/>
<g font-size="20">
<text x="713.6" y="988.5">10</text><line class="t" x1="712.2" y1="991.6" x2="731.5" y2="991.6"/>
<line class="t" x1="731.5" y1="991.6" x2="750.9" y2="893.9"/>
<text x="807.5" y="988.5">14</text><line class="t" x1="806" y1="991.6" x2="825" y2="991.6"/>
<line class="t" x1="806" y1="991.6" x2="801.5" y2="905.8"/>
<text x="896.9" y="988.5">12</text><line class="t" x1="893.9" y1="991.6" x2="913.3" y2="991.6"/>
<line class="t" x1="893.9" y1="991.6" x2="861.1" y2="885"/><circle cx="861.1" cy="885" r="1.8"/>
</g>

<!-- ========== NOTES ========== -->
<g font-size="19">
<text x="1047" y="694">1.</text><text x="1074" y="694" textLength="204" lengthAdjust="spacingAndGlyphs">*Размеры для справки.</text>
<text x="1047" y="716">2.</text><text x="1074" y="716" textLength="271" lengthAdjust="spacingAndGlyphs">Циатим 221 ГОСТ 9433-2021.</text>
<text x="1047" y="738">3.</text><text x="1074" y="738" textLength="101" lengthAdjust="spacingAndGlyphs">Loctite 243.</text>
<text x="1047" y="760">4.</text><text x="1076" y="760" textLength="379" lengthAdjust="spacingAndGlyphs">* *Допускается замена на изделия других</text>
<text x="1078" y="782" textLength="425" lengthAdjust="spacingAndGlyphs">производителей с обеспечением характеристик:</text>
<text x="1080" y="804" textLength="345" lengthAdjust="spacingAndGlyphs">– посадочный размер – квадрат 1/2",</text>
<text x="1080" y="826" textLength="182" lengthAdjust="spacingAndGlyphs">– число зубьев – 30,</text>
<text x="1080" y="848" textLength="410" lengthAdjust="spacingAndGlyphs">– наружный диаметр головки не более 44мм,</text>
<text x="1080" y="870" textLength="255" lengthAdjust="spacingAndGlyphs">– размер "а" не более 24мм</text>
</g>
</g>
</svg>
</body></html>
